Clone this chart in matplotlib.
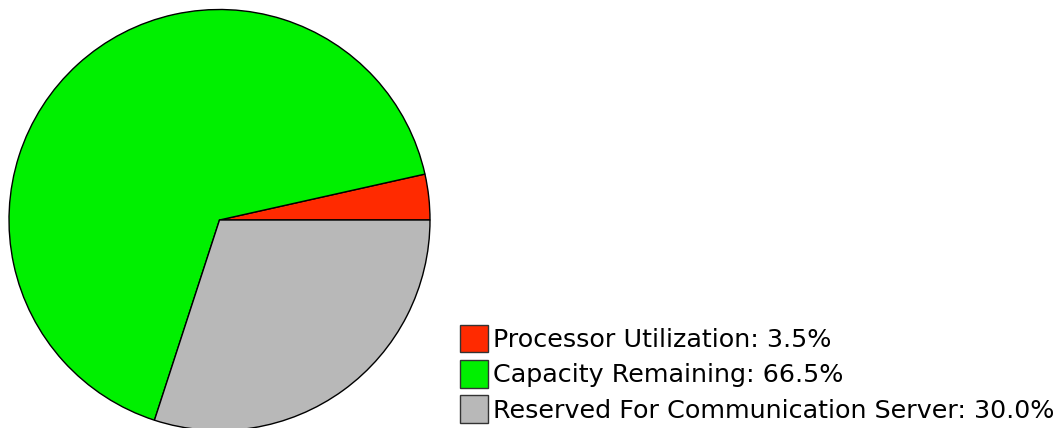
import matplotlib
matplotlib.use("Agg")
import matplotlib.pyplot as plt

# data
categorias = ["Processor Utilization", "Capacity Remaining", "Reserved For Communication Server"]
valores = [3.5, 66.5, 30.0]
colores = ["#ff2a00", "#00f000", "#b8b8b8"]

W, H = 1060, 428
fig = plt.figure(figsize=(W / 100, H / 100), dpi=100)
ax = fig.add_axes([0, 0, 1, 1])
ax.set_xlim(0, W)
ax.set_ylim(0, H)
ax.set_aspect("equal")
ax.axis("off")

wedges, _ = ax.pie(valores, colors=colores, startangle=0, counterclock=True,
                   center=(219.5, H - 220), radius=210.5,
                   wedgeprops=dict(edgecolor="black", linewidth=1.0))
ax.set_xlim(0, W)
ax.set_ylim(0, H)

etiquetas = [f"{c}: {v:.1f}%" for c, v in zip(categorias, valores)]
leg = ax.legend(wedges, etiquetas, loc="lower left",
                bbox_to_anchor=(460 / W, 5 / H), bbox_transform=fig.transFigure,
                frameon=False, fontsize=18.3, borderpad=0, borderaxespad=0,
                handlelength=1.1, handleheight=1.3, handletextpad=0.2,
                labelspacing=0.3)
for h in leg.legend_handles:
    h.set_edgecolor("#333333")
    h.set_linewidth(1.0)

fig.savefig("out.png", dpi=100)
